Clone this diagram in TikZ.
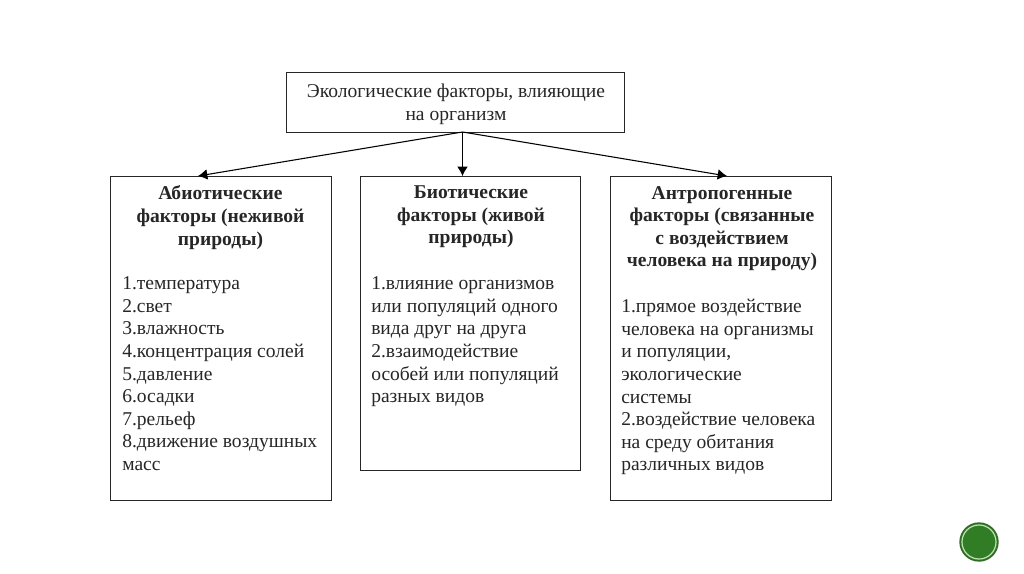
\documentclass[tikz,border=0pt]{standalone}
\usepackage{fontspec}
\setmainfont{Liberation Serif}
\usetikzlibrary{arrows.meta}
\definecolor{badgefill}{RGB}{48,125,38}
\definecolor{badgering}{RGB}{190,225,175}
\definecolor{badgeedge}{RGB}{50,105,40}
\tikzset{
 box/.style={draw=black!85,line width=0.9pt,anchor=north west,inner sep=0pt},
 label/.style={anchor=north,align=center,inner sep=0pt,text=black!85,font=\fontsize{14.65pt}{16.95pt}\selectfont},
 head/.style={label,font=\fontsize{14.65pt}{16.95pt}\selectfont\bfseries},
 listing/.style={anchor=north west,align=left,inner sep=0pt,text=black!85,font=\fontsize{14.65pt}{16.95pt}\selectfont},
 link/.style={draw=black,line width=0.8pt,-{Latex[length=7pt,width=8pt]}}
}
\begin{document}
\begin{tikzpicture}[x=0.75pt,y=-0.75pt]
\useasboundingbox[fill=white] (0,0) rectangle (1024,574);
\node[box,minimum width=253.5pt,minimum height=45pt] (top) at (285.6,71.6) {};
\node[box,minimum width=166pt,minimum height=243pt] (left) at (109.6,175.6) {};
\node[box,minimum width=165pt,minimum height=221pt] (mid) at (359.6,175.6) {};
\node[box,minimum width=166pt,minimum height=243pt] (right) at (609.6,175.6) {};
\node[label] (toptext) at (456,84) {Экологические факторы, влияющие\\на организм};
\node[head] (lefthead) at (220.5,185.7) {Абиотические\\факторы (неживой\\природы)};
\node[listing] (leftlist) at (122,276.5) {1.температура\\2.свет\\3.влажность\\4.концентрация солей\\5.давление\\6.осадки\\7.рельеф\\8.движение воздушных\\масс};
\node[head] (midhead) at (471,185.7) {Биотические\\факторы (живой\\природы)};
\node[listing] (midlist) at (371,276.5) {1.влияние организмов\\или популяций одного\\вида друг на друга\\2.взаимодействие\\особей или популяций\\разных видов};
\node[head] (righthead) at (722,186) {Антропогенные\\факторы (связанные\\с воздействием\\человека на природу)};
\node[listing] (rightlist) at (621,299) {1.прямое воздействие\\человека на организмы\\и популяции,\\экологические\\системы\\2.воздействие человека\\на среду обитания\\различных видов};
\coordinate (src) at (462.5,132);
\coordinate (dstl) at (198,176);
\coordinate (dstm) at (462.5,176);
\coordinate (dstr) at (727,176);
\draw[link] (src) -- (dstl);
\draw[link] (src) -- (dstm);
\draw[link] (src) -- (dstr);
\node[circle,draw=badgeedge,line width=1pt,fill=badgefill,minimum size=28.5pt,inner sep=0pt] (badgeout) at (979,542) {};
\node[circle,draw=badgering,line width=0.9pt,minimum size=25.5pt,inner sep=0pt] (badge) at (979,542) {};
\end{tikzpicture}
\end{document}
